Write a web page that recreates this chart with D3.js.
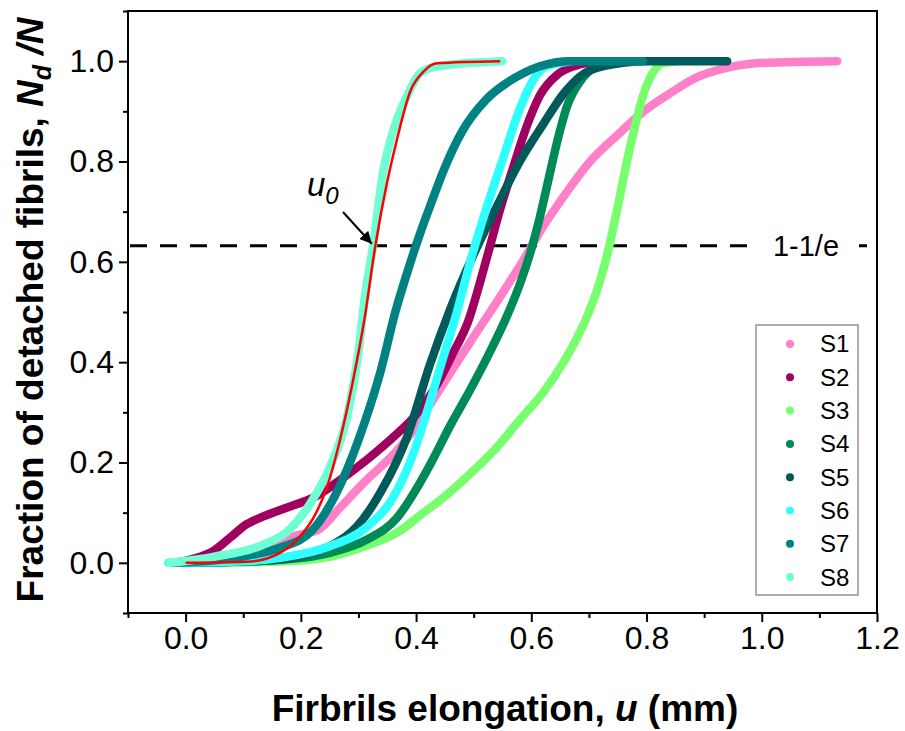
<!DOCTYPE html>
<html>
<head>
<meta charset="utf-8">
<script src="https://cdn.jsdelivr.net/npm/d3@7"></script>
<style>
  body { margin: 0; background: #fff; }
  text { font-family: Arial, "Liberation Sans", sans-serif; }
</style>
</head>
<body>
<div id="chart"></div>
<script>
// series: [u (mm), Nd/N]
var s1 = [[-0.02,0],[0.05,0.002],[0.1,0.008],[0.15,0.03],[0.18,0.05],[0.233,0.068],[0.268,0.11],[0.314,0.165],[0.36,0.215],[0.396,0.265],[0.424,0.315],[0.46,0.38],[0.494,0.44],[0.54,0.52],[0.587,0.605],[0.615,0.66],[0.656,0.73],[0.702,0.8],[0.749,0.852],[0.795,0.9],[0.841,0.936],[0.888,0.968],[0.93,0.984],[0.99,0.996],[1.131,1.0]];
var s2 = [[-0.02,0],[0.013,0.008],[0.05,0.025],[0.077,0.05],[0.106,0.077],[0.134,0.092],[0.18,0.112],[0.222,0.13],[0.262,0.16],[0.314,0.205],[0.36,0.25],[0.396,0.29],[0.436,0.355],[0.465,0.42],[0.49,0.48],[0.51,0.555],[0.528,0.63],[0.546,0.705],[0.569,0.79],[0.592,0.87],[0.615,0.932],[0.645,0.973],[0.68,0.992],[0.7,0.997]];
var s3 = [[0.0,0],[0.15,0.002],[0.25,0.012],[0.309,0.032],[0.367,0.06],[0.413,0.1],[0.442,0.125],[0.482,0.165],[0.54,0.23],[0.58,0.285],[0.621,0.34],[0.656,0.4],[0.68,0.45],[0.7,0.5],[0.72,0.565],[0.735,0.63],[0.75,0.71],[0.765,0.795],[0.78,0.87],[0.795,0.935],[0.81,0.975],[0.825,0.995],[0.85,1.0]];
var s4 = [[0.0,0],[0.15,0.005],[0.25,0.02],[0.314,0.046],[0.367,0.09],[0.407,0.16],[0.424,0.195],[0.46,0.275],[0.494,0.345],[0.528,0.42],[0.557,0.49],[0.58,0.555],[0.6,0.625],[0.615,0.69],[0.63,0.765],[0.645,0.84],[0.662,0.91],[0.685,0.96],[0.714,0.99],[0.76,1.0]];
var s5 = [[0.0,0],[0.15,0.005],[0.25,0.033],[0.297,0.072],[0.338,0.14],[0.384,0.25],[0.424,0.395],[0.459,0.505],[0.5,0.615],[0.54,0.71],[0.58,0.8],[0.621,0.875],[0.656,0.935],[0.685,0.97],[0.725,0.99],[0.8,1.0],[0.94,1.0]];
var s6 = [[-0.03,0],[0.1,0.003],[0.164,0.01],[0.25,0.033],[0.315,0.072],[0.36,0.13],[0.396,0.22],[0.424,0.32],[0.442,0.39],[0.471,0.5],[0.494,0.6],[0.523,0.71],[0.552,0.81],[0.58,0.905],[0.603,0.962],[0.627,0.99],[0.67,1.0]];
var s7 = [[-0.02,0],[0.05,0.005],[0.11,0.015],[0.164,0.03],[0.22,0.065],[0.262,0.14],[0.3,0.245],[0.338,0.38],[0.364,0.5],[0.385,0.58],[0.405,0.65],[0.424,0.71],[0.447,0.78],[0.48,0.86],[0.523,0.925],[0.569,0.965],[0.615,0.99],[0.667,1.0],[0.794,1.0]];
var s8 = [[-0.027,0],[0.048,0.012],[0.134,0.036],[0.18,0.066],[0.22,0.125],[0.25,0.19],[0.28,0.29],[0.3,0.42],[0.31,0.52],[0.325,0.63],[0.343,0.78],[0.36,0.86],[0.384,0.93],[0.407,0.976],[0.437,0.99],[0.55,1.0]];
var fit = [[0,0],[0.106,0.002],[0.164,0.02],[0.198,0.052],[0.222,0.09],[0.245,0.15],[0.268,0.245],[0.29,0.36],[0.311,0.49],[0.329,0.63],[0.35,0.76],[0.366,0.84],[0.39,0.94],[0.412,0.978],[0.436,0.996],[0.546,1.0]];

var names = ["S1","S2","S3","S4","S5","S6","S7","S8"];
var colors = ["#ff80c8","#a0005f","#78ff6e","#008a58","#005a5a","#30ffff","#008282","#6effd2"];
var series = [s1, s2, s3, s4, s5, s6, s7, s8];

var xTicks = [0, 0.2, 0.4, 0.6, 0.8, 1.0, 1.2];
var yTicks = [0, 0.2, 0.4, 0.6, 0.8, 1.0];
var level = 1 - 1 / Math.E;

var W = 905, H = 731;
var mLeft = 128, mRight = 877, mTop = 11, mBottom = 613;

var svg = d3.select("#chart").append("svg")
    .attr("width", W).attr("height", H);

var x = d3.scaleLinear().domain([-0.1, 1.2]).range([mLeft, mRight]);
var y = d3.scaleLinear().domain([-0.1, 1.1]).range([mBottom, mTop]);

// frame
svg.append("rect")
    .attr("x", mLeft).attr("y", mTop)
    .attr("width", mRight - mLeft).attr("height", mBottom - mTop)
    .attr("fill", "none").attr("stroke", "#000").attr("stroke-width", 2);

// axes: major ticks + minor ticks
svg.append("g").attr("transform", "translate(0," + mBottom + ")")
    .call(d3.axisBottom(x).tickValues(xTicks).tickSize(9).tickPadding(4).tickFormat(d3.format(".1f")));
svg.append("g").attr("transform", "translate(0," + mBottom + ")")
    .call(d3.axisBottom(x).tickValues(d3.range(-0.1, 1.2, 0.2)).tickSize(5).tickFormat(""));
svg.append("g").attr("transform", "translate(" + mLeft + ",0)")
    .call(d3.axisLeft(y).tickValues(yTicks).tickSize(9).tickPadding(5).tickFormat(d3.format(".1f")));
svg.append("g").attr("transform", "translate(" + mLeft + ",0)")
    .call(d3.axisLeft(y).tickValues(d3.range(-0.1, 1.1, 0.2)).tickSize(5).tickFormat(""));

svg.selectAll(".domain").remove();
svg.selectAll(".tick line").attr("stroke", "#000").attr("stroke-width", 2);
svg.selectAll(".tick text")
    .attr("fill", "#000")
    .attr("font-family", "Arial, 'Liberation Sans', sans-serif")
    .attr("font-size", 32);

// 1-1/e level
svg.append("line")
    .attr("x1", mLeft + 2).attr("x2", mRight - 2)
    .attr("y1", y(level)).attr("y2", y(level))
    .attr("stroke", "#000").attr("stroke-width", 3)
    .attr("stroke-dasharray", "17,13");
svg.append("rect")
    .attr("x", 754).attr("y", y(level) - 17)
    .attr("width", 105).attr("height", 34).attr("fill", "#fff");
svg.append("text")
    .attr("x", 806).attr("y", y(level) + 10)
    .attr("text-anchor", "middle")
    .style("font-size", "29px")
    .text("1-1/e");

// data curves
var line = d3.line()
    .x(function(d) { return x(d[0]); })
    .y(function(d) { return y(d[1]); })
    .curve(d3.curveMonotoneX);

svg.append("g").selectAll("path")
    .data(series)
    .enter().append("path")
    .attr("d", line)
    .attr("fill", "none")
    .attr("stroke", function(d, i) { return colors[i]; })
    .attr("stroke-width", 8.5)
    .attr("stroke-linecap", "round")
    .attr("stroke-linejoin", "round");

svg.append("path")
    .attr("d", line(fit))
    .attr("fill", "none")
    .attr("stroke", "#ff0000")
    .attr("stroke-width", 2.5);

// u0 annotation
var u0 = svg.append("text")
    .attr("x", 307).attr("y", 196)
    .style("font-size", "33px").style("font-style", "italic");
u0.append("tspan").text("u");
u0.append("tspan").attr("dy", 8).style("font-size", "24px").text("0");

svg.append("defs").append("marker")
    .attr("id", "head")
    .attr("viewBox", "0 0 10 10")
    .attr("refX", 10).attr("refY", 5)
    .attr("markerWidth", 6).attr("markerHeight", 6)
    .attr("orient", "auto")
  .append("path")
    .attr("d", "M0,0 L10,5 L0,10 z")
    .attr("fill", "#000");

svg.append("line")
    .attr("x1", 343).attr("y1", 212)
    .attr("x2", x(0.325) - 1).attr("y2", y(level) - 2)
    .attr("stroke", "#000").attr("stroke-width", 2)
    .attr("marker-end", "url(#head)");

// legend
var legend = svg.append("g");
legend.append("rect")
    .attr("x", 756).attr("y", 325)
    .attr("width", 102).attr("height", 270)
    .attr("fill", "#fff").attr("stroke", "#777").attr("stroke-width", 1.2);

var item = legend.selectAll("g.item")
    .data(names)
    .enter().append("g")
    .attr("class", "item")
    .attr("transform", function(d, i) { return "translate(790," + (344 + i * 33.3) + ")"; });
item.append("circle")
    .attr("r", 4)
    .attr("fill", function(d, i) { return colors[i]; });
item.append("text")
    .attr("x", 30).attr("dy", "0.35em")
    .style("font-size", "24px")
    .text(function(d) { return d; });

// axis titles
var xt = svg.append("text")
    .attr("x", 505).attr("y", 721)
    .attr("text-anchor", "middle")
    .style("font-size", "37px").style("font-weight", "bold");
xt.append("tspan").text("Firbrils elongation, ");
xt.append("tspan").style("font-style", "italic").text("u");
xt.append("tspan").text(" (mm)");

var yt = svg.append("text")
    .attr("transform", "translate(43,310) rotate(-90)")
    .attr("text-anchor", "middle")
    .style("font-size", "37px").style("font-weight", "bold");
yt.append("tspan").text("Fraction of detached fibrils, ");
yt.append("tspan").style("font-style", "italic").text("N");
yt.append("tspan").attr("dy", 8).style("font-size", "25px").style("font-style", "italic").text("d");
yt.append("tspan").attr("dy", -8).style("font-style", "italic").text(" /N");
</script>
</body>
</html>
